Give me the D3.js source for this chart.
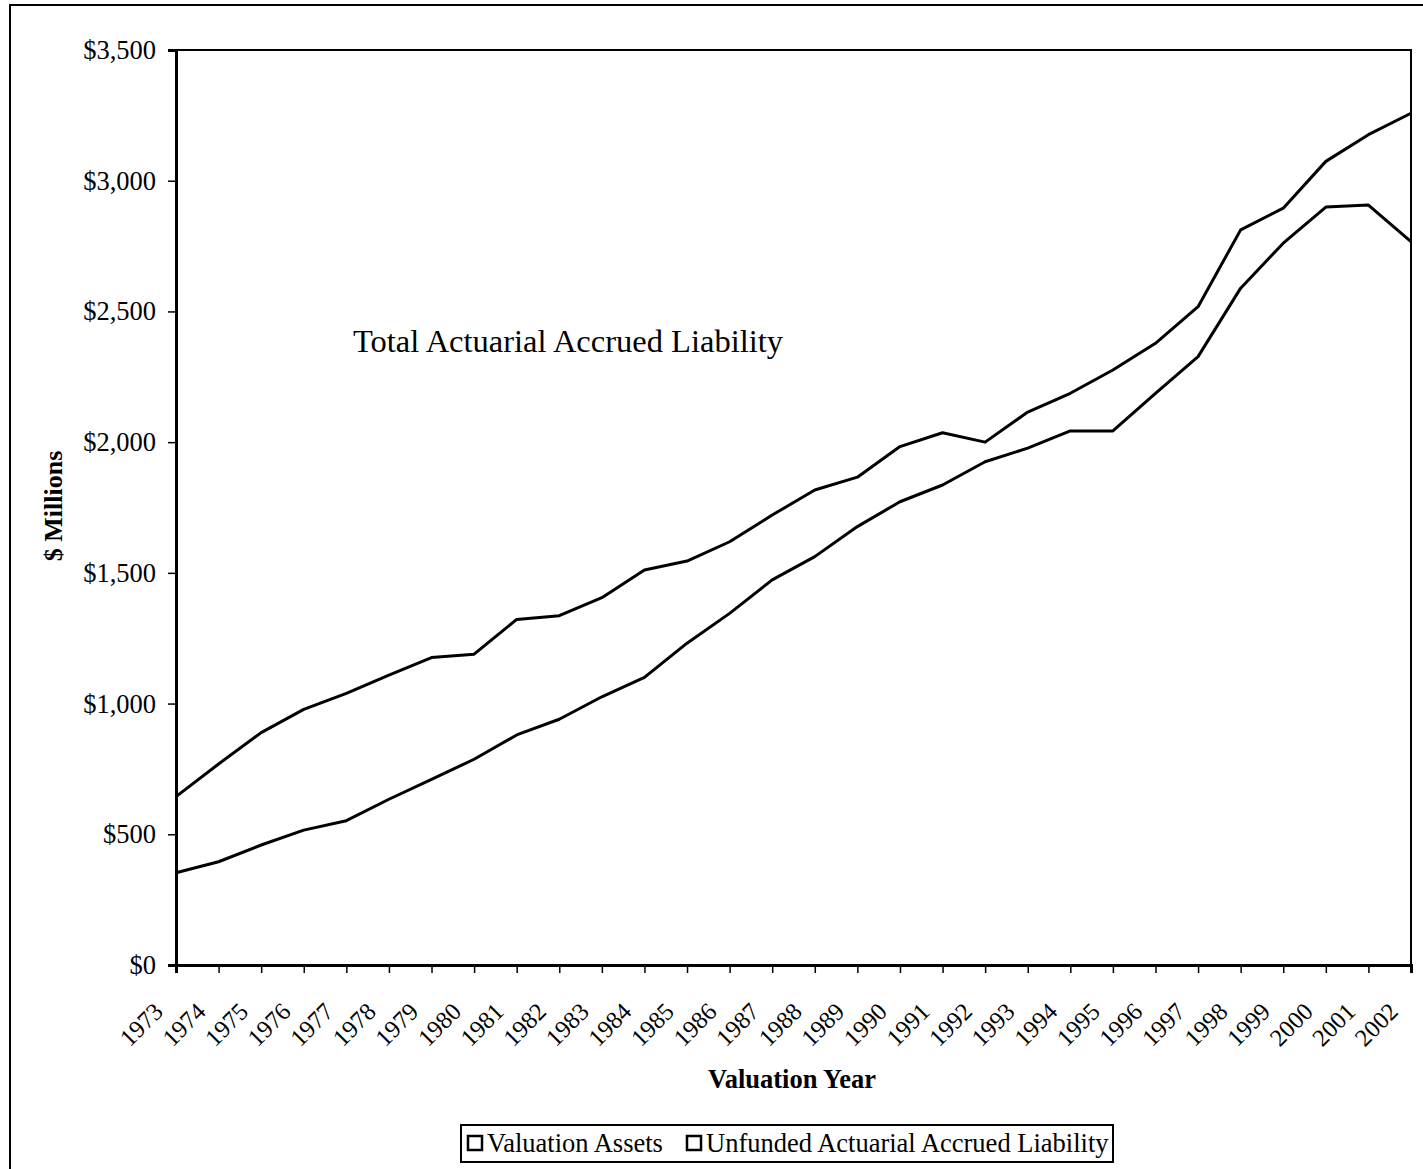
<!DOCTYPE html>
<html>
<head>
<meta charset="utf-8">
<script src="https://cdn.jsdelivr.net/npm/d3@7"></script>
<style>
  body { margin: 0; background: #fff; }
  text { font-family: "Liberation Serif", "Times New Roman", serif; fill: #000; }
</style>
</head>
<body>
<div id="chart"></div>
<script>
// data ($ millions)
var years = d3.range(1973, 2003);
var assets = [353, 395, 459, 516, 552, 634, 710, 787, 880, 940,
              1026, 1100, 1231, 1345, 1473, 1562, 1677, 1772, 1836, 1925,
              1977, 2043, 2043, 2187, 2327, 2589, 2761, 2899, 2907, 2767];
var unfunded = [291, 374, 430, 462, 487, 475, 466, 402, 442, 396,
                379, 411, 314, 274, 248, 255, 189, 211, 200, 75,
                138, 144, 233, 191, 191, 223, 134, 175, 269, 491];
var seriesNames = ["Valuation Assets", "Unfunded Actuarial Accrued Liability"];
var yTicks = [0, 500, 1000, 1500, 2000, 2500, 3000, 3500];

// set the dimensions and margins of the graph
var W = 1423, H = 1169;
var margin = {top: 50, right: 12, bottom: 204, left: 176},
    width = W - margin.left - margin.right,
    height = H - margin.top - margin.bottom;

var svg = d3.select("#chart")
  .append("svg")
    .attr("width", W)
    .attr("height", H);

// outer chart frame (only left and top edges show)
svg.append("rect")
    .attr("x", 10).attr("y", 5)
    .attr("width", W + 20).attr("height", H + 20)
    .attr("fill", "none")
    .attr("stroke", "#000")
    .attr("stroke-width", 2);

var g = svg.append("g")
    .attr("transform", "translate(" + margin.left + "," + margin.top + ")");

var x = d3.scaleLinear().domain([1973, 2002]).range([0, width]);
var y = d3.scaleLinear().domain([0, 3500]).range([height, 0]);

// stack the two series
var table = years.map(function(yr, i) {
  return {year: yr, assets: assets[i], unfunded: unfunded[i]};
});
var stacked = d3.stack().keys(["assets", "unfunded"])(table);

var area = d3.area()
    .x(function(d) { return x(d.data.year); })
    .y0(function(d) { return y(d[0]); })
    .y1(function(d) { return y(d[1]); });

var line = d3.line()
    .x(function(d) { return x(d.data.year); })
    .y(function(d) { return y(d[1]); });

g.selectAll(".area")
    .data(stacked)
    .enter().append("path")
      .attr("class", "area")
      .attr("d", area)
      .attr("fill", "#fff");

g.selectAll(".top")
    .data(stacked)
    .enter().append("path")
      .attr("class", "top")
      .attr("d", line)
      .attr("fill", "none")
      .attr("stroke", "#000")
      .attr("stroke-width", 3)
      .attr("stroke-linejoin", "round");

// plot border
g.append("rect")
    .attr("width", width).attr("height", height)
    .attr("fill", "none")
    .attr("stroke", "#000")
    .attr("stroke-width", 2);

// Y axis
var yAxis = g.append("g")
    .call(d3.axisLeft(y).tickValues(yTicks).tickSize(8).tickPadding(12).tickFormat(d3.format("$,")));
yAxis.select(".domain").attr("stroke-width", 3);
yAxis.selectAll(".tick line").attr("stroke-width", 1.5);
yAxis.selectAll(".tick text")
    .style("font-size", "26.5px")
    .style("font-family", "'Liberation Serif', serif");

// X axis
var xAxis = g.append("g")
    .attr("transform", "translate(0," + height + ")")
    .call(d3.axisBottom(x).tickValues(years).tickSize(8).tickFormat(d3.format("d")));
xAxis.select(".domain").attr("stroke-width", 3);
xAxis.selectAll(".tick line").attr("stroke-width", 1.5);
xAxis.selectAll(".tick text")
    .attr("text-anchor", "end")
    .attr("dy", null)
    .attr("y", null)
    .attr("transform", "translate(-12,48) rotate(-45)")
    .style("font-size", "24.5px")
    .style("font-family", "'Liberation Serif', serif");

// annotation
g.append("text")
    .attr("x", 353 - margin.left)
    .attr("y", 352 - margin.top)
    .style("font-size", "32.5px")
    .text("Total Actuarial Accrued Liability");

// Y label
svg.append("text")
    .attr("transform", "translate(62,506) rotate(-90)")
    .attr("text-anchor", "middle")
    .style("font-size", "26px")
    .style("font-weight", "bold")
    .text("$ Millions");

// X label
svg.append("text")
    .attr("x", 792)
    .attr("y", 1088)
    .attr("text-anchor", "middle")
    .style("font-size", "26.5px")
    .style("font-weight", "bold")
    .text("Valuation Year");

// legend
var legend = svg.append("g").attr("transform", "translate(461,1125)");
legend.append("rect")
    .attr("width", 652).attr("height", 37)
    .attr("fill", "#fff")
    .attr("stroke", "#000")
    .attr("stroke-width", 2);

var legendX = [7, 226];
var items = legend.selectAll(".item")
    .data(seriesNames)
    .enter().append("g")
      .attr("class", "item")
      .attr("transform", function(d, i) { return "translate(" + legendX[i] + ",0)"; });
items.append("rect")
    .attr("x", 0).attr("y", 11)
    .attr("width", 14).attr("height", 14)
    .attr("fill", "#fff")
    .attr("stroke", "#000")
    .attr("stroke-width", 2.5);
items.append("text")
    .attr("x", 19)
    .attr("y", 27)
    .style("font-size", "26.5px")
    .text(function(d) { return d; });
</script>
</body>
</html>
